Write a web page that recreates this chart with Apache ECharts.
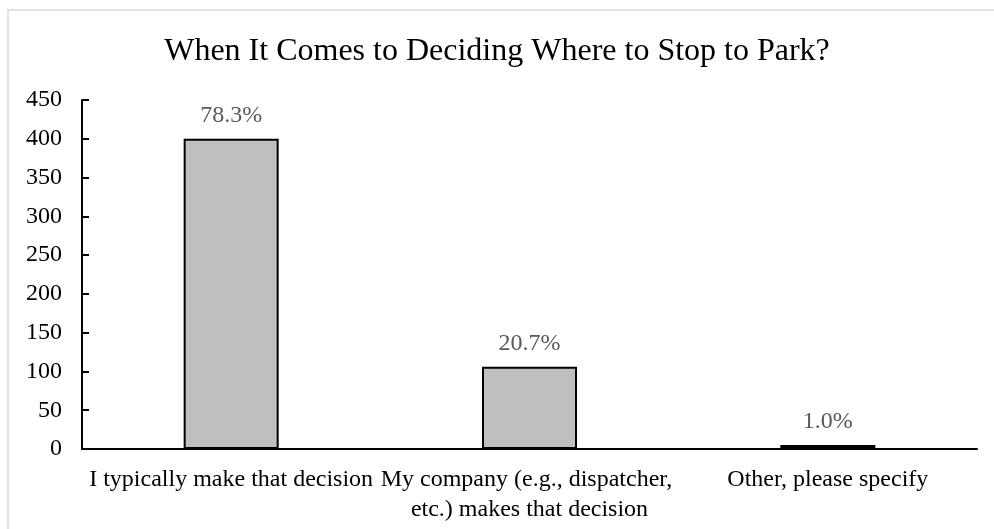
<!DOCTYPE html>
<html>
<head>
<meta charset="utf-8">
<script src="https://cdn.jsdelivr.net/npm/echarts@6/dist/echarts.min.js"></script>
<style>
  html, body { margin: 0; padding: 0; background: #fff; }
  #chart { width: 994px; height: 529px; }
</style>
</head>
<body>
<div id="chart"></div>
<script>
// Survey responses: who decides where the driver stops to park
const categories = [
  'I typically make that decision',
  'My company (e.g., dispatcher, etc.) makes that decision',
  'Other, please specify'
];
const responseCounts = [400, 106, 5];
const shareLabels = ['78.3%', '20.7%', '1.0%'];
const yTicks = { min: 0, max: 450, interval: 50 };

const FONT = '"Liberation Serif", "Times New Roman", serif';

const chart = echarts.init(document.getElementById('chart'));
chart.setOption({
  animation: false,
  backgroundColor: '#ffffff',
  graphic: [{
    type: 'rect',
    shape: { x: 8, y: 10, width: 1000, height: 540 },
    style: { fill: 'none', stroke: '#d9d9d9', lineWidth: 1.5 },
    silent: true
  }],
  title: {
    text: 'When It Comes to Deciding Where to Stop to Park?',
    left: 'center',
    top: 31,
    textStyle: { fontFamily: FONT, fontSize: 32, fontWeight: 'normal', color: '#000' }
  },
  grid: { left: 82, right: 17, top: 100, bottom: 80, containLabel: false },
  xAxis: {
    type: 'category',
    data: categories,
    axisLine: { lineStyle: { color: '#000', width: 2 } },
    axisTick: { show: false },
    axisLabel: {
      interval: 0,
      margin: 16,
      width: 300,
      overflow: 'break',
      lineHeight: 30,
      fontFamily: FONT,
      fontSize: 24,
      color: '#000'
    }
  },
  yAxis: {
    type: 'value',
    min: yTicks.min,
    max: yTicks.max,
    interval: yTicks.interval,
    splitLine: { show: false },
    axisLine: { show: true, lineStyle: { color: '#000', width: 2 } },
    axisTick: { show: true, inside: true, length: 7, lineStyle: { color: '#000', width: 2 } },
    axisLabel: { margin: 20, fontFamily: FONT, fontSize: 24, color: '#000' }
  },
  series: [{
    type: 'bar',
    data: responseCounts,
    barWidth: 95,
    itemStyle: { color: '#bfbfbf', borderColor: '#000', borderWidth: 2 },
    label: {
      show: true,
      position: 'top',
      distance: 11,
      formatter: p => shareLabels[p.dataIndex],
      fontFamily: FONT,
      fontSize: 24,
      color: '#595959'
    }
  }]
});
</script>
</body>
</html>
